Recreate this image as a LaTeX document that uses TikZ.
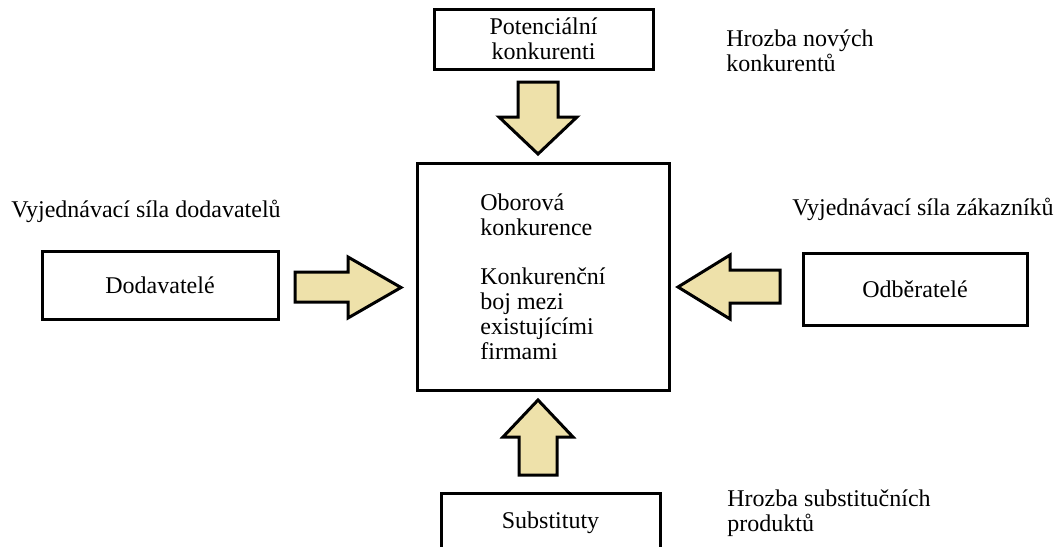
\documentclass[tikz,border=0pt]{standalone}
\usepackage{fontspec}
\setmainfont{Liberation Serif}
\usepackage{xcolor}
\definecolor{arrowfill}{RGB}{238,225,170}

\begin{document}
\begin{tikzpicture}[x=0.5pt, y=-0.5pt,
    every node/.style={font=\fontsize{12}{12.4}\selectfont},
    box/.style={draw, line width=1.5pt, align=center, inner sep=0pt},
    note/.style={inner sep=0pt, align=left},
    fat/.style={draw, line width=1.5pt, fill=arrowfill, line join=miter}]
      \useasboundingbox (0,0) rectangle (1064,546);

      % boxes
      \node[box, minimum width=109.5pt, minimum height=30pt] (pot) at (543.5,39) {Potenciální\\konkurenti};
      \node[box, minimum width=126pt, minimum height=113.5pt, align=left] (core) at (543,276.5)
        {Oborová\\konkurence\\[12.4pt]Konkurenční\\boj mezi\\existujícími\\firmami};
      \node[box, minimum width=118pt, minimum height=34pt] (dod) at (160,285) {Dodavatelé};
      \node[box, minimum width=112pt, minimum height=36pt] (odb) at (915,289) {Odběratelé};
      \node[box, minimum width=109.5pt, minimum height=30pt] (sub) at (550.5,523) {Substituty};

      % labels
      \node[note, anchor=west] (hnk) at (726,51) {Hrozba nových\\konkurentů};
      \node[note, anchor=base west] (vsd) at (11,217) {Vyjednávací síla dodavatelů};
      \node[note, anchor=base west] (vsz) at (792,215) {Vyjednávací síla zákazníků};
      \node[note, anchor=west] (hsp) at (727,513) {Hrozba substitučních\\produktů};

      % block arrows
      \draw[fat] (518,82) -- (558,82) -- (558,117) -- (577,117) -- (538,154) -- (499,117) -- (518,117) -- cycle;
      \draw[fat] (295,272) -- (348,272) -- (348,257) -- (401,287.5) -- (348,318) -- (348,302) -- (295,302) -- cycle;
      \draw[fat] (780,270) -- (730,270) -- (730,255) -- (678,287) -- (730,319) -- (730,303) -- (780,303) -- cycle;
      \draw[fat] (519,475) -- (519,437) -- (503,437) -- (538,400) -- (573,437) -- (557,437) -- (557,475) -- cycle;

\end{tikzpicture}
\end{document}
